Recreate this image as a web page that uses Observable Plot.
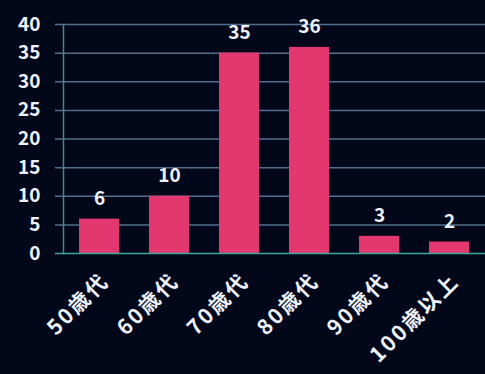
<!DOCTYPE html>
<html><head><meta charset="utf-8">
<script src="https://cdn.jsdelivr.net/npm/d3@7"></script>
<script src="https://cdn.jsdelivr.net/npm/@observablehq/plot@0.6"></script>
<style>
html,body{margin:0;padding:0;background:#03071a;}
.xlab text{letter-spacing:2.5px;}
</style></head>
<body>
<div id="chart"></div>
<script>
const categories = ["50歳代", "60歳代", "70歳代", "80歳代", "90歳代", "100歳以上"];
const values = [6, 10, 35, 36, 3, 2];
const yTicks = [0, 5, 10, 15, 20, 25, 30, 35, 40];

const data = categories.map((c, i) => ({category: c, value: values[i]}));

const chart = Plot.plot({
  width: 485,
  height: 374,
  marginLeft: 63,
  marginRight: 0,
  marginTop: 24,
  marginBottom: 121,
  style: {background: "#03071a", color: "#ffffff", fontFamily: "'Noto Sans CJK JP', 'DejaVu Sans', sans-serif", fontSize: "17px", fontWeight: "bold"},
  x: {domain: categories, paddingInner: 0.43, paddingOuter: 0.22, label: null},
  y: {domain: [0, 40], label: null},
  marks: [
    Plot.ruleY(yTicks.slice(1), {stroke: "#86b4d8", strokeOpacity: 0.6, strokeWidth: 1.5, insetLeft: -8}),
    Plot.frame({anchor: "left", stroke: "#3a8f86", strokeWidth: 1.5}),
    Plot.barY(data, {x: "category", y: "value", fill: "#e3386f"}),
    Plot.ruleY([0], {stroke: "#3aa89a", strokeWidth: 1.5, insetLeft: -8}),
    Plot.text(data, {x: "category", y: "value", text: d => String(d.value), dy: -20, fill: "#eef2ff", fontSize: 19, fontWeight: "bold"}),
    Plot.axisY(yTicks, {tickSize: 0, tickPadding: 23, fill: "#eef2ff", fontSize: 19, fontWeight: "bold"}),
    Plot.axisX({tickSize: 0, tickRotate: -45, textAnchor: "end", tickPadding: 24, fill: "#eef2ff", fontSize: 21, fontWeight: "bold", dx: 6, className: "xlab"})
  ]
});
document.getElementById("chart").appendChild(chart);
</script>
</body></html>
